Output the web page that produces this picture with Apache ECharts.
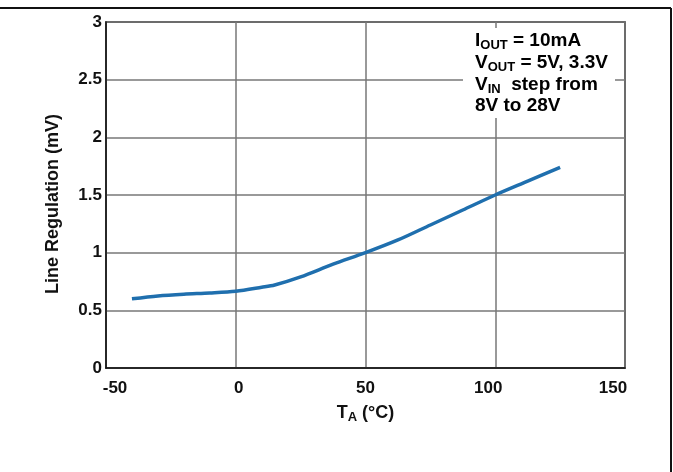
<!DOCTYPE html>
<html><head><meta charset="utf-8">
<script src="https://cdn.jsdelivr.net/npm/echarts@6/dist/echarts.min.js"></script>
<style>html,body{margin:0;padding:0;background:#fff}#c{width:673px;height:472px}</style>
</head><body><div id="c"></div>
<script>
var temps = [-40, -30, -20, -10, 0, 10, 15, 25, 37.5, 50, 62.5, 75, 87.5, 100, 112.5, 125];
var lineReg = [0.60, 0.625, 0.64, 0.65, 0.665, 0.70, 0.72, 0.79, 0.90, 1.0, 1.11, 1.24, 1.37, 1.5, 1.62, 1.74];
var xTicks = [-50, 0, 50, 100, 150];
var yTicks = [0, 0.5, 1, 1.5, 2, 2.5, 3];

var font = 'Liberation Sans, Arial, sans-serif';
var chart = echarts.init(document.getElementById('c'));
var bRich = {fontFamily: font, fontWeight: 'bold', fontSize: 19, color: '#111', lineHeight: 21};
var sRich = {fontFamily: font, fontWeight: 'bold', fontSize: 13, color: '#111', padding: [9, 0, 0, 0]};
var tickBase = {fontFamily: font, fontWeight: 'bold', fontSize: 17, color: '#111'};
function xr(pl, pr) { return Object.assign({padding: [0, pr, 0, pl]}, tickBase); }
chart.setOption({
  animation: false,
  grid: {left: 106, right: 48, top: 22, bottom: 104, show: true, borderColor: '#111', borderWidth: 1.5},
  xAxis: {
    type: 'value', min: xTicks[0], max: xTicks[xTicks.length - 1], interval: 50,
    axisLine: {show: true, onZero: false, lineStyle: {color: '#111', width: 1.5}},
    axisTick: {show: false},
    axisLabel: {fontFamily: font, fontWeight: 'bold', fontSize: 17, color: '#111', margin: 12,
      formatter: function (v) {
        var k = xTicks.indexOf(v);
        if (k < 0) return '';
        return '{t' + k + '|' + v + '}';
      },
      rich: {t0: xr(18, 0), t1: xr(6, 0), t2: xr(0, 0), t3: xr(0, 14), t4: xr(0, 24)}
    },
    splitLine: {show: true, lineStyle: {color: '#777', width: 1.5}},
    name: '{b|T}{s|A}{b| (°C)}', nameLocation: 'middle', nameGap: 34,
    nameTextStyle: {rich: {b: {fontFamily: font, fontWeight: 'bold', fontSize: 18, color: '#111'}, s: {fontFamily: font, fontWeight: 'bold', fontSize: 13, color: '#111', padding: [9, 0, 0, 0]}}}
  },
  yAxis: {
    type: 'value', min: yTicks[0], max: yTicks[yTicks.length - 1], interval: 0.5,
    axisLine: {show: true, onZero: false, lineStyle: {color: '#111', width: 1.5}},
    axisTick: {show: false},
    axisLabel: {fontFamily: font, fontWeight: 'bold', fontSize: 17, color: '#111', margin: 4,
      formatter: function (v) { return String(v); }},
    splitLine: {show: true, lineStyle: {color: '#777', width: 1.5}},
    name: 'Line Regulation (mV)', nameLocation: 'middle', nameGap: 44,
    nameTextStyle: {fontFamily: font, fontWeight: 'bold', fontSize: 18, color: '#111', padding: [0, 18, 0, 0]}
  },
  series: [{
    type: 'line', data: temps.map(function (t, i) { return [t, lineReg[i]]; }),
    smooth: 0.3, showSymbol: false, lineStyle: {color: '#1f6fae', width: 3.5}
  }],
  graphic: [
    {type: 'line', shape: {x1: 0, y1: 8, x2: 671, y2: 8}, style: {stroke: '#111', lineWidth: 2}},
    {type: 'line', shape: {x1: 671, y1: 8, x2: 671, y2: 472}, style: {stroke: '#111', lineWidth: 2}},
    {type: 'rect', shape: {x: 463, y: 28, width: 152, height: 90}, style: {fill: '#fff'}, z: 10},
    {type: 'text', left: 475, top: 31, z: 11, style: {
      text: '{b|I}{s|OUT}{b| = 10mA}\n{b|V}{s|OUT}{b| = 5V, 3.3V}\n{b|V}{s|IN}{b|  step from}\n{b|8V to 28V}',
      rich: {b: bRich, s: sRich}
    }}
  ]
});
</script></body></html>
